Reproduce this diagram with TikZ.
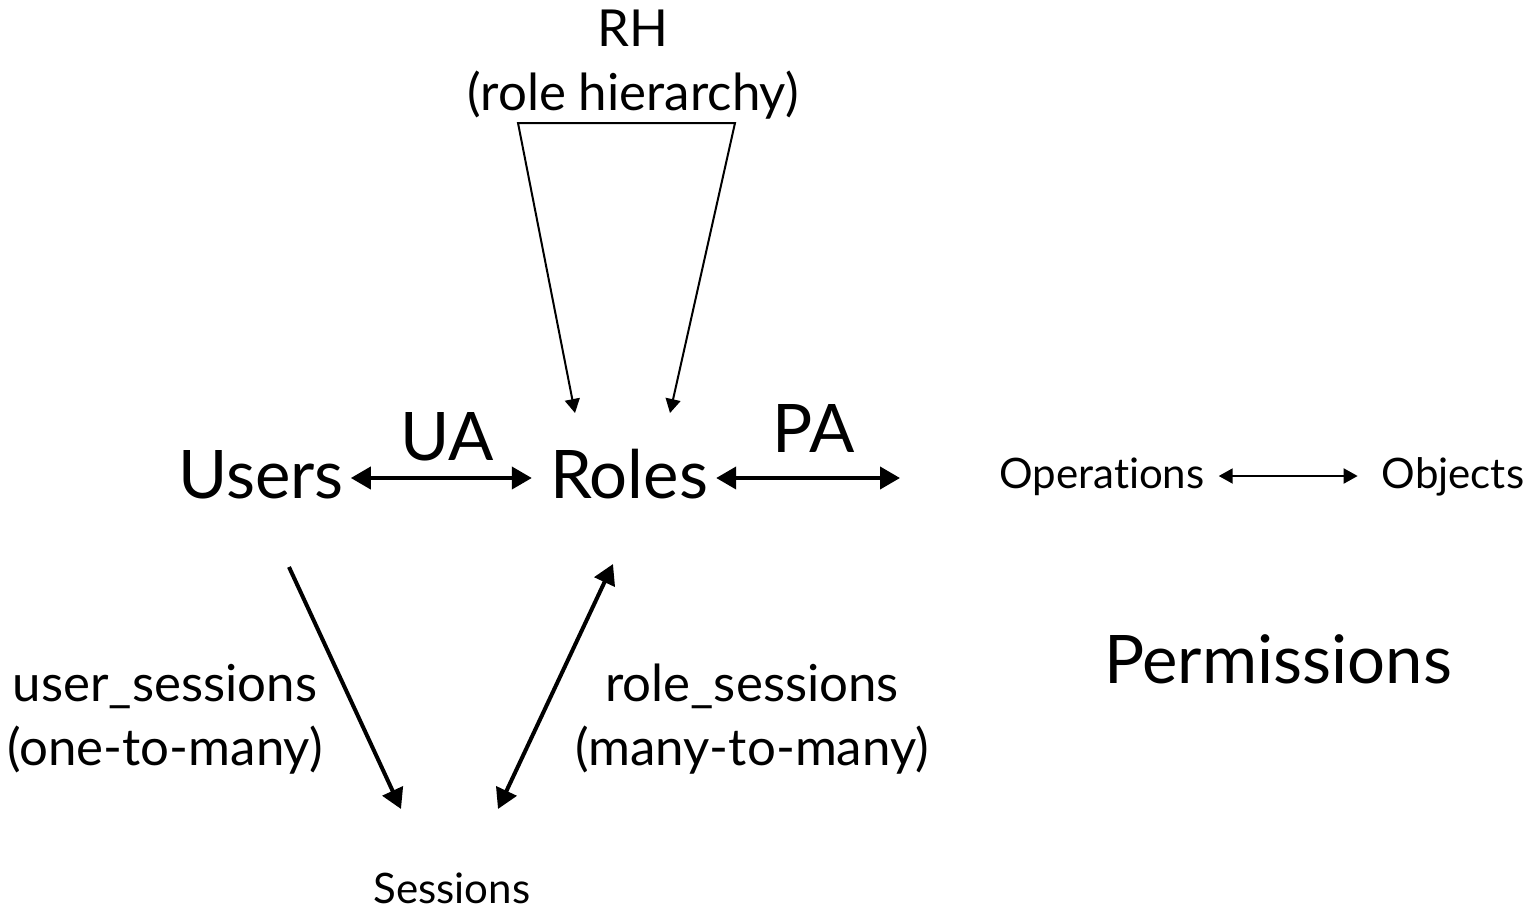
\documentclass[tikz,border=0pt]{standalone}
\usepackage{fontspec}
\setmainfont[Ligatures={NoCommon,NoRare}]{Lato}
\usetikzlibrary{arrows.meta}

\tikzset{
  bigtext/.style={font=\fontsize{67}{70}\selectfont, inner sep=0pt, anchor=base},
  midtext/.style={font=\fontsize{51}{64}\selectfont, align=center, inner sep=0pt, anchor=north},
  smalltext/.style={font=\fontsize{42}{46}\selectfont, inner sep=0pt, anchor=base},
  link/.style={line width=4pt, >={Triangle[length=20pt,width=22pt]}},
  thinlink/.style={line width=2pt, >={Triangle[length=14pt,width=15pt]}},
}

\begin{document}
\begin{tikzpicture}[x=1pt, y=-1pt]
    \useasboundingbox (0,0) rectangle (1532,910);

    % role hierarchy
    \node[midtext] (rh) at (633,10) {RH\\(role hierarchy)};
    \coordinate (rhL) at (518,123);
    \coordinate (rhR) at (735,123);
    \coordinate (rhTipL) at (575,413);
    \coordinate (rhTipR) at (670,413);
    \draw[thinlink,<->] (rhTipL) -- (rhL) -- (rhR) -- (rhTipR);

    % users, roles, permissions
    \node[bigtext] (users) at (261,498) {Users};
    \node[bigtext] (roles) at (629,498) {Roles};
    \node[bigtext] (ua) at (447,460) {UA};
    \node[bigtext] (pa) at (814,452) {PA};
    \coordinate (paEnd) at (900,478);
    \draw[link,<->] ([xshift=7pt,yshift=20pt]users.base east) -- ([xshift=-18pt,yshift=20pt]roles.base west);
    \draw[link,<->] ([xshift=8pt,yshift=20pt]roles.base east) -- (paEnd);

    \node[smalltext] (ops) at (1102,488) {Operations};
    \node[smalltext] (objs) at (1453,488) {Objects};
    \draw[thinlink,<->] ([xshift=14pt,yshift=12pt]ops.base east) -- ([xshift=-24pt,yshift=12pt]objs.base west);
    \node[bigtext] (perms) at (1278,683) {Permissions};

    % sessions
    \node[smalltext] (sessions) at (452,903) {Sessions};
    \coordinate (usStart) at (289,567);
    \coordinate (usEnd) at (401,809);
    \coordinate (rsStart) at (613,564);
    \coordinate (rsEnd) at (498,809);
    \draw[link,->] (usStart) -- (usEnd);
    \draw[link,<->] (rsEnd) -- (rsStart);
    \node[midtext] (us) at (165,664) {user\_sessions\\(one-to-many)};
    \node[midtext] (rs) at (752,664) {role\_sessions\\(many-to-many)};
\end{tikzpicture}
\end{document}
